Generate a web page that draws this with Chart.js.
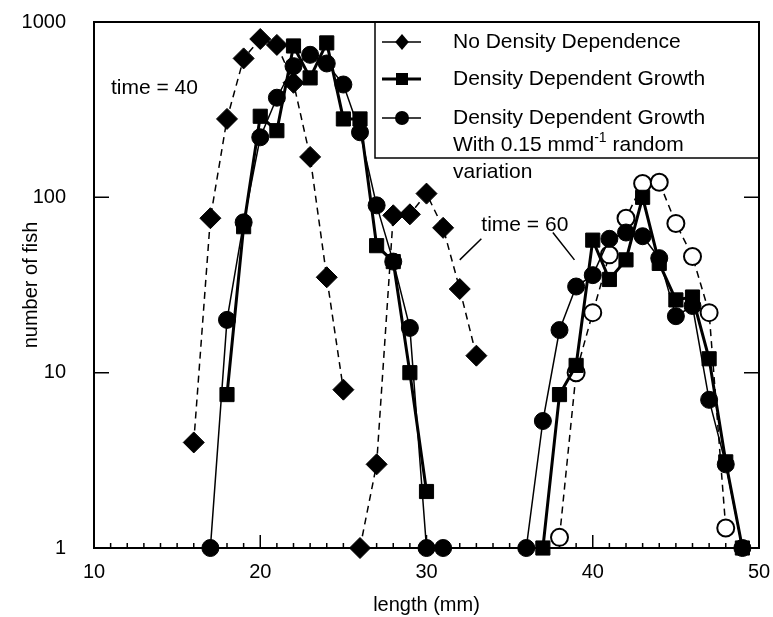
<!DOCTYPE html>
<html>
<head>
<meta charset="utf-8">
<script src="https://cdn.jsdelivr.net/npm/chart.js@4.4.0/dist/chart.umd.min.js"></script>
<style>
  html, body { margin: 0; padding: 0; background: #fff; }
</style>
</head>
<body>
<canvas id="fishChart" width="773" height="617"></canvas>
<script>
// axis ticks
const lengthTicks = [10, 20, 30, 40, 50];
const fishTicks = [1, 10, 100, 1000];

// No density dependence (diamonds), time = 40 and time = 60
const lenNoDD40 = [16, 17, 18, 19, 20, 21, 22, 23, 24, 25];
const fishNoDD40 = [4, 76, 280, 620, 800, 740, 450, 170, 35, 8];
const lenNoDD60 = [26, 27, 28, 29, 30, 31, 32, 33];
const fishNoDD60 = [1, 3, 79, 80, 105, 67, 30, 12.5];

// Density dependent growth (squares)
const lenDDG40 = [18, 19, 20, 21, 22, 23, 24, 25, 26, 27, 28, 29, 30];
const fishDDG40 = [7.5, 68, 290, 240, 730, 480, 760, 280, 280, 53, 43, 10, 2.1];
const lenDDG60 = [37, 38, 39, 40, 41, 42, 43, 44, 45, 46, 47, 48, 49];
const fishDDG60 = [1, 7.5, 11, 57, 34, 44, 100, 42, 26, 27, 12, 3.1, 1];

// Density dependent growth with random variation (filled circles)
const lenRand40 = [17, 18, 19, 20, 21, 22, 23, 24, 25, 26, 27, 28, 29, 30, 31];
const fishRand40 = [1, 20, 72, 220, 370, 560, 650, 580, 440, 235, 90, 43, 18, 1, 1];
const lenRand60 = [36, 37, 38, 39, 40, 41, 42, 43, 44, 45, 46, 47, 48, 49];
const fishRand60 = [1, 5.3, 17.5, 31, 36, 58, 63, 60, 45, 21, 24, 7, 3, 1];

// open circles (dashed), time = 60
const lenOpen60 = [38, 39, 40, 41, 42, 43, 44, 45, 46, 47, 48];
const fishOpen60 = [1.15, 10, 22, 47, 76, 120, 122, 71, 46, 22, 1.3];

const FONT = '"Liberation Sans", Arial, Helvetica, sans-serif';

function pts(xs, ys) {
    return xs.map((v, i) => ({ x: v, y: ys[i] }));
}

const diamondStyle = {
    borderColor: '#000', backgroundColor: '#000', borderWidth: 1.5, borderDash: [7, 5],
    pointStyle: 'rectRot', pointRadius: 10.5, pointBorderWidth: 1, pointBackgroundColor: '#000', order: 3
};
const squareStyle = {
    borderColor: '#000', backgroundColor: '#000', borderWidth: 3,
    pointStyle: 'rect', pointRadius: 10, pointBorderWidth: 1, pointBackgroundColor: '#000', order: 1
};
const circleStyle = {
    borderColor: '#000', backgroundColor: '#000', borderWidth: 1.5,
    pointStyle: 'circle', pointRadius: 8.5, pointBorderWidth: 1, pointBackgroundColor: '#000', order: 0
};

const datasets = [
    Object.assign({ label: 'No Density Dependence', data: pts(lenNoDD40, fishNoDD40) }, diamondStyle),
    Object.assign({ label: 'Density Dependent Growth', data: pts(lenDDG40, fishDDG40) }, squareStyle),
    Object.assign({ label: 'Density Dependent Growth', data: pts(lenRand40, fishRand40) }, circleStyle),
    Object.assign({ label: '', data: pts(lenNoDD60, fishNoDD60) }, diamondStyle),
    Object.assign({ label: '', data: pts(lenDDG60, fishDDG60) }, squareStyle),
    Object.assign({ label: '', data: pts(lenRand60, fishRand60) }, circleStyle),
    {
        label: '', data: pts(lenOpen60, fishOpen60),
        borderColor: '#000', backgroundColor: '#fff', borderWidth: 1.5, borderDash: [7, 5],
        pointStyle: 'circle', pointRadius: 8.5, pointBorderWidth: 2,
        pointBackgroundColor: '#fff', pointBorderColor: '#000', order: 2
    }
];

function drawMarker(ctx, style, x, y, r) {
    ctx.beginPath();
    if (style === 'rectRot') {
        ctx.moveTo(x - r * 0.85, y); ctx.lineTo(x, y - r); ctx.lineTo(x + r * 0.85, y); ctx.lineTo(x, y + r);
        ctx.closePath();
    } else if (style === 'rect') {
        ctx.rect(x - r, y - r, 2 * r, 2 * r);
    } else {
        ctx.arc(x, y, r, 0, Math.PI * 2);
    }
    ctx.fill();
}

const fishPlugin = {
    id: 'fishDecor',
    beforeDatasetsDraw(chart) {
        const { ctx, chartArea: a, scales: { x, y } } = chart;
        ctx.save();
        ctx.strokeStyle = '#000';
        ctx.lineWidth = 1.5;
        ctx.beginPath();
        // inward ticks along the bottom, one per mm
        for (let v = lengthTicks[0]; v <= lengthTicks[lengthTicks.length - 1]; v++) {
            const px = x.getPixelForValue(v);
            const len = v % 10 === 0 ? 13 : 5;
            ctx.moveTo(px, a.bottom);
            ctx.lineTo(px, a.bottom - len);
        }
        fishTicks.forEach(v => {
            const py = y.getPixelForValue(v);
            ctx.moveTo(a.left, py); ctx.lineTo(a.left + 15, py);
            ctx.moveTo(a.right, py); ctx.lineTo(a.right - 15, py);
        });
        ctx.stroke();
        ctx.lineWidth = 2;
        ctx.strokeRect(a.left, a.top, a.right - a.left, a.bottom - a.top);
        ctx.restore();
    },
    afterDatasetsDraw(chart) {
        const { ctx, chartArea: a, scales: { x, y } } = chart;
        ctx.save();
        ctx.fillStyle = '#000';
        ctx.strokeStyle = '#000';
        ctx.font = '21px ' + FONT;
        ctx.textBaseline = 'middle';

        // time labels
        ctx.textAlign = 'left';
        ctx.fillText('time = 40', a.left + 17, a.top + 66);
        ctx.fillText('time = 60', x.getPixelForValue(33.3), y.getPixelForValue(69));
        ctx.lineWidth = 1.5;
        ctx.beginPath();
        ctx.moveTo(x.getPixelForValue(33.3), y.getPixelForValue(58));
        ctx.lineTo(x.getPixelForValue(32.0), y.getPixelForValue(44));
        ctx.moveTo(x.getPixelForValue(37.6), y.getPixelForValue(63));
        ctx.lineTo(x.getPixelForValue(38.9), y.getPixelForValue(44));
        ctx.stroke();

        // legend box, tucked into the top right corner of the frame
        const bx = 375, by = a.top, bh = 136;
        ctx.lineWidth = 1.5;
        ctx.strokeRect(bx, by, a.right - bx, bh);
        const rows = [
            { ds: datasets[0], y: 42, r: 8, lines: ['No Density Dependence'] },
            { ds: datasets[1], y: 79, r: 6, lines: ['Density Dependent Growth'] },
            { ds: datasets[2], y: 118, r: 7, lines: ['Density Dependent Growth', null, 'variation'] }
        ];
        rows.forEach(row => {
            ctx.lineWidth = row.ds.borderWidth;
            ctx.beginPath();
            ctx.moveTo(bx + 7, row.y);
            ctx.lineTo(bx + 46, row.y);
            ctx.stroke();
            drawMarker(ctx, row.ds.pointStyle, bx + 27, row.y, row.r);
            row.lines.forEach((t, i) => {
                const ty = row.y + i * 27;
                if (t !== null) {
                    ctx.fillText(t, bx + 78, ty);
                } else {
                    let tx = bx + 78;
                    const a1 = 'With 0.15 mmd';
                    ctx.fillText(a1, tx, ty);
                    tx += ctx.measureText(a1).width;
                    ctx.font = '14px ' + FONT;
                    ctx.fillText('-1', tx, ty - 7);
                    tx += ctx.measureText('-1').width;
                    ctx.font = '21px ' + FONT;
                    ctx.fillText(' random', tx, ty);
                }
            });
        });
        ctx.restore();
    }
};

new Chart(document.getElementById('fishChart'), {
    type: 'line',
    data: { datasets: datasets },
    options: {
        responsive: false,
        animation: false,
        layout: { padding: { top: 22, right: 14, left: 0, bottom: 0 } },
        datasets: { line: { clip: false, tension: 0, fill: false } },
        plugins: { legend: { display: false }, tooltip: { enabled: false } },
        scales: {
            x: {
                type: 'linear',
                min: 10,
                max: 50,
                afterBuildTicks: s => { s.ticks = lengthTicks.map(v => ({ value: v })); },
                afterFit: s => { s.height = 69; s.paddingLeft = 0; s.paddingRight = 0; },
                grid: { display: false },
                border: { display: false },
                ticks: { color: '#000', padding: 4, maxRotation: 0, autoSkip: false, font: { family: FONT, size: 20 } },
                title: { display: true, text: 'length (mm)', color: '#000', padding: { top: 0, bottom: 0 }, font: { family: FONT, size: 20 } }
            },
            y: {
                type: 'logarithmic',
                min: 1,
                max: 1000,
                afterBuildTicks: s => { s.ticks = fishTicks.map(v => ({ value: v })); },
                afterFit: s => { s.width = 94; s.paddingTop = 0; s.paddingBottom = 0; },
                grid: { display: false },
                border: { display: false },
                ticks: { color: '#000', padding: 20, autoSkip: false, callback: v => String(v), font: { family: FONT, size: 20 } },
                title: { display: true, text: 'number of fish', color: '#000', padding: { top: 19, bottom: 0 }, font: { family: FONT, size: 20 } }
            }
        }
    },
    plugins: [fishPlugin]
});
</script>
</body>
</html>
